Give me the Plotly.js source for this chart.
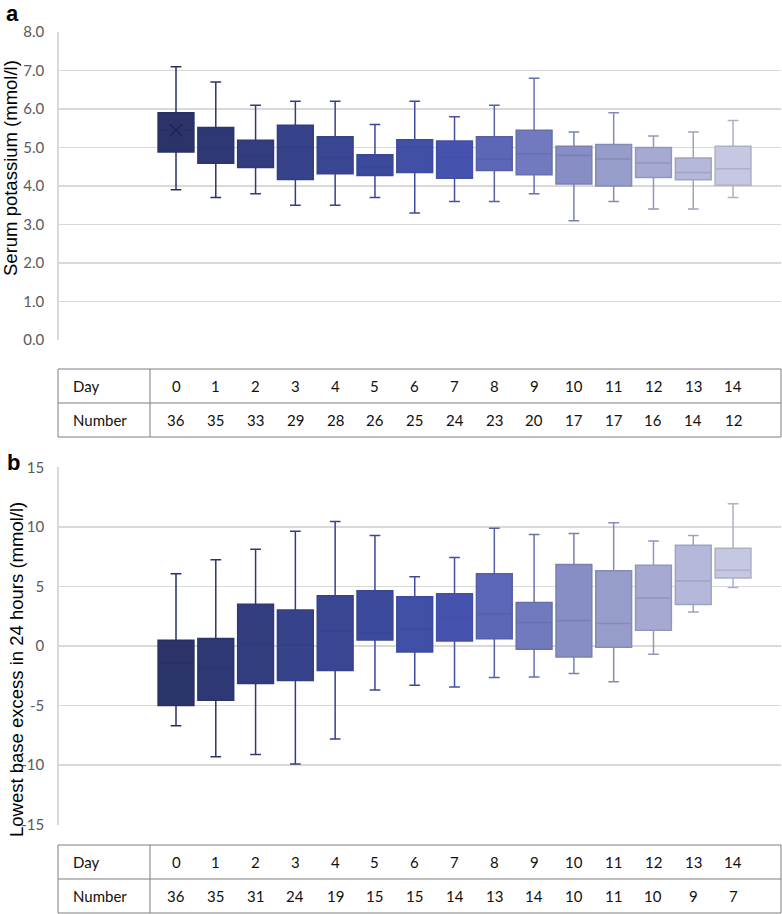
<!DOCTYPE html>
<html>
<head>
<meta charset="utf-8">
<script src="https://cdn.plot.ly/plotly-3.0.1.min.js"></script>
<style>
  body { margin: 0; padding: 0; background: #fff; }
  #plotArea { width: 782px; height: 914px; }
</style>
</head>
<body>
<div id="plotArea"></div>
<script>
// Days after start
var days = [0, 1, 2, 3, 4, 5, 6, 7, 8, 9, 10, 11, 12, 13, 14];

// Panel a: serum potassium (mmol/l)
var kLow  = [3.9, 3.7, 3.8, 3.5, 3.5, 3.7, 3.3, 3.6, 3.6, 3.8, 3.1, 3.6, 3.4, 3.4, 3.7];
var kQ1   = [4.88, 4.59, 4.48, 4.17, 4.32, 4.27, 4.35, 4.2, 4.4, 4.29, 4.05, 4.0, 4.22, 4.16, 4.02];
var kMed  = [5.45, 5.0, 4.79, 5.0, 4.74, 4.49, 5.0, 4.74, 4.7, 4.84, 4.79, 4.7, 4.6, 4.35, 4.45];
var kQ3   = [5.9, 5.52, 5.19, 5.58, 5.28, 4.81, 5.2, 5.17, 5.28, 5.45, 5.03, 5.08, 5.0, 4.73, 5.03];
var kHigh = [7.1, 6.7, 6.1, 6.2, 6.2, 5.6, 6.2, 5.8, 6.1, 6.8, 5.4, 5.9, 5.3, 5.4, 5.7];
var kMean0 = 5.45;
var numbersA = [36, 35, 33, 29, 28, 26, 25, 24, 23, 20, 17, 17, 16, 14, 12];

// Panel b: lowest base excess in 24 hours (mmol/l)
var beLow  = [-6.7, -9.3, -9.1, -9.9, -7.8, -3.7, -3.3, -3.45, -2.65, -2.6, -2.3, -3.0, -0.7, 2.85, 4.9];
var beQ1   = [-5.0, -4.55, -3.15, -2.9, -2.05, 0.5, -0.5, 0.42, 0.6, -0.28, -0.93, -0.1, 1.32, 3.48, 5.7];
var beMed  = [-1.4, -1.88, 0.22, 0.11, 1.26, 1.1, 1.43, 2.42, 2.7, 1.97, 2.13, 1.88, 4.02, 5.45, 6.35];
var beQ3   = [0.48, 0.62, 3.51, 3.03, 4.21, 4.63, 4.13, 4.38, 6.07, 3.65, 6.85, 6.32, 6.77, 8.46, 8.2];
var beHigh = [6.07, 7.25, 8.12, 9.63, 10.45, 9.27, 5.81, 7.42, 9.89, 9.35, 9.44, 10.34, 8.82, 9.27, 11.94];
var numbersB = [36, 35, 31, 24, 19, 15, 15, 14, 13, 14, 10, 11, 10, 9, 7];
var beTickVals = [-15, -10, -5, 0, 5, 10, 15];
var beTickText = ['-15', '-10', '-5', '0', '5', '10', '15'];

// Colours, dark navy to pale lavender
var fills = ['#2b3468', '#2e3874', '#323d80', '#364289', '#394691', '#3c4a9b', '#414fa6', '#4653ae',
             '#5c67b7', '#717abf', '#878dc5', '#979dcb', '#a6aad2', '#b5b8da', '#c5c7e3'];
var lines = ['#283060', '#2b356c', '#2f3978', '#333e82', '#36428a', '#394694', '#3d4b9d', '#4450a4',
             '#5560a8', '#6670ac', '#7a80b0', '#868bb4', '#9497b8', '#a0a3bd', '#aeb0c4'];

var W = 782, H = 914;
function px(x) { return x / W; }
function py(y) { return 1 - y / H; }

var data = [];
days.forEach(function(d, i) {
    data.push({
        type: 'box', x: [d],
        q1: [kQ1[i]], median: [kMed[i]], q3: [kQ3[i]],
        lowerfence: [kLow[i]], upperfence: [kHigh[i]],
        width: 0.9, whiskerwidth: 0.3,
        fillcolor: fills[i], line: {color: lines[i], width: 1.5},
        xaxis: 'x', yaxis: 'y', hoverinfo: 'skip', showlegend: false
    });
    data.push({
        type: 'box', x: [d],
        q1: [beQ1[i]], median: [beMed[i]], q3: [beQ3[i]],
        lowerfence: [beLow[i]], upperfence: [beHigh[i]],
        width: 0.9, whiskerwidth: 0.3,
        fillcolor: fills[i], line: {color: lines[i], width: 1.5},
        xaxis: 'x2', yaxis: 'y2', hoverinfo: 'skip', showlegend: false
    });
});

// mean marker on day 0 of panel a
data.push({
    type: 'scatter', mode: 'markers', x: [days[0]], y: [kMean0],
    marker: {symbol: 'x-thin-open', size: 12, color: '#1d2450', line: {color: '#1d2450', width: 1.5}},
    xaxis: 'x', yaxis: 'y', hoverinfo: 'skip', showlegend: false
});

var tickFont = {family: 'Lato, sans-serif', size: 15, color: '#595959'};
var xr = [-2.953, 15.205];
var xdom = [px(58.5), px(781)];

var xBase = {range: xr, domain: xdom, showgrid: false, zeroline: false, showline: false,
             showticklabels: false, ticks: '', fixedrange: true};
var yBase = {gridcolor: '#d9d9d9', gridwidth: 1.3, zeroline: false, showline: true,
             linecolor: '#d9d9d9', linewidth: 1.3, ticks: '', tickfont: tickFont,
             ticklabelstandoff: 10, fixedrange: true};

var layout = {
    width: W, height: H,
    margin: {l: 0, r: 0, t: 0, b: 0},
    paper_bgcolor: '#ffffff', plot_bgcolor: '#ffffff',
    boxmode: 'overlay',
    xaxis: Object.assign({}, xBase, {anchor: 'y'}),
    xaxis2: Object.assign({}, xBase, {anchor: 'y2'}),
    yaxis: Object.assign({}, yBase, {anchor: 'x', domain: [py(340), py(32)], range: [0, 8],
                                      dtick: 1, tickformat: '.1f'}),
    yaxis2: Object.assign({}, yBase, {anchor: 'x2', domain: [py(824.7), py(467.3)], range: [-15, 15],
                                       tickmode: 'array', tickvals: beTickVals, ticktext: beTickText}),
    shapes: [],
    annotations: []
};

function note(text, x, y, font, extra) {
    return Object.assign({text: text, xref: 'paper', yref: 'paper', x: x, y: y,
                          xanchor: 'center', yanchor: 'middle', showarrow: false, font: font}, extra || {});
}

var titleFont = {family: 'Liberation Sans, Arial, sans-serif', size: 18.5, color: '#000'};
var panelFont = {family: 'Liberation Sans, Arial, sans-serif', size: 22, color: '#000'};
layout.annotations.push(
    note('<b>a</b>', px(12), py(13), panelFont),
    note('<b>b</b>', px(13), py(462), panelFont),
    note('Serum potassium (mmol/l)', px(10), py(168), titleFont, {textangle: -90}),
    note('Lowest base excess in 24 hours (mmol/l)', px(16), py(670), titleFont, {textangle: -90})
);

// tables under each panel
var tableFont = {family: 'Lato, sans-serif', size: 15, color: '#111'};
function addTable(xref, top, nums) {
    var mid = top + 34, bot = top + 68;
    var lc = {color: '#7f7f7f', width: 1};
    layout.shapes.push(
        {type: 'rect', xref: 'paper', yref: 'paper', x0: px(58), x1: px(781), y0: py(top), y1: py(bot), line: lc},
        {type: 'line', xref: 'paper', yref: 'paper', x0: px(58), x1: px(781), y0: py(mid), y1: py(mid), line: lc},
        {type: 'line', xref: 'paper', yref: 'paper', x0: px(150), x1: px(150), y0: py(top), y1: py(bot), line: lc}
    );
    layout.annotations.push(
        note('Day', px(71), py(top + 17), tableFont, {xanchor: 'left'}),
        note('Number', px(71), py(mid + 17), tableFont, {xanchor: 'left'})
    );
    days.forEach(function(d, i) {
        layout.annotations.push(
            note(String(d), d, py(top + 17), tableFont, {xref: xref}),
            note(String(nums[i]), d, py(mid + 17), tableFont, {xref: xref})
        );
    });
}
addTable('x', 369, numbersA);
addTable('x2', 845, numbersB);

Plotly.newPlot('plotArea', data, layout, {displayModeBar: false, staticPlot: true});
</script>
</body>
</html>
